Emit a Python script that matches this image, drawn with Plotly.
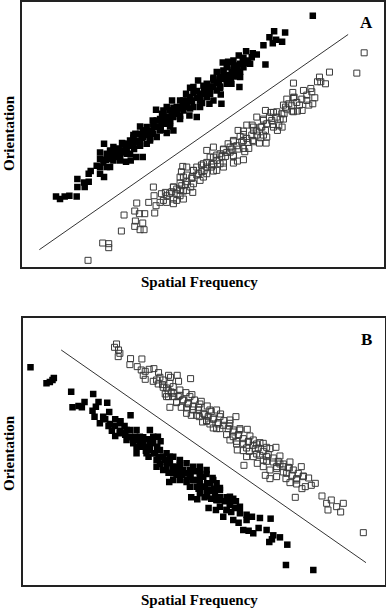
import plotly.graph_objects as go

# Values (arbitrary units; orientation axis is drawn top-down)
# Panel A
a_filled = [(938,46),(855,96),(822,92),(808,110),(828,118),(846,124),(790,134),(818,128),(796,192),
    (738,152),(758,158),(716,165),(728,178),(744,188),(710,196),(684,184),(668,186),
    (700,210),(688,224),(676,232),(720,230),(650,215),(640,232),(656,246),(694,250),(718,260),(594,240),(612,262),
    (570,262),(590,272),(620,290),(662,282),(640,300),(606,308),(628,310),(664,310),(600,320),(558,280),(540,300),
    (516,300),(530,320),(508,330),(550,330),(568,345),(590,350),(520,350),
    (468,328),(486,340),(470,360),(492,370),(510,378),(520,390),(500,398),(482,388),(460,380),(444,396),(420,378),
    (430,410),(450,420),(470,410),(400,404),(420,436),(402,446),(384,430),(366,428),(380,460),(392,480),(408,470),
    (428,470),(352,460),(336,466),(320,460),(300,456),(312,430),(340,480),(318,478),(300,476),(378,484),(290,496),
    (272,512),(300,520),(312,530),(266,520),(232,536),(252,546),(232,560),(266,544),(254,560),(230,588),(208,586),
    (194,588),(180,596),(168,588),
    (340,440),(356,444),(372,450),(360,470),(390,420),(410,420),(436,400),(440,430),(456,400),(476,380),(458,360),
    (480,356),(498,350),(510,360),(530,340),(540,356),(548,316),(560,300),(576,300),(580,320),(600,290),(612,276),
    (630,270),(640,260),(660,262),(680,250),(692,232),(704,228),(712,212),(730,200),(670,210),(650,270),(620,250),
    (580,260),(500,320),(520,330),(460,400),(430,390),(400,430),(376,440),(350,450),(330,450),(420,400),(490,330),
    (440,380),(406,400),(560,320),(570,290),(600,300),(640,240),(660,230),(680,200),(700,180),(720,190),
    (300,500),(310,486),(320,500),(335,476),(350,470),(365,456),(380,448),(395,436),(410,426),(425,412),(440,404),
    (455,392),(470,378),(485,368),(500,356),(515,346),(530,334),(545,324),(560,312),(575,302),(590,292),(605,280),
    (620,268),(635,258),(650,248),(665,236),(680,226),(695,214),(710,204),(725,192),(740,180),(755,170),(770,162),
    (330,500),(360,480),(390,460),(420,430),(450,414),(480,390),(510,368),(540,346),(570,324),(600,300),(630,280),
    (660,258),(690,236),(720,214),(750,190),(340,456),(370,430),(400,412),(430,390),(460,370),(490,346),(520,322),
    (550,300),(580,278),(610,256),(640,236),(670,214),(700,194),(730,172)]
a_open = [(1092,157),(1070,218),(988,215),(958,230),(976,250),(952,244),(962,244),(932,264),(944,292),(938,310),
    (920,300),(926,314),(898,314),(880,248),(878,276),(882,290),(860,296),(866,310),(856,320),(852,340),(876,332),
    (892,332),(906,330),
    (796,330),(812,336),(830,334),(808,350),(790,360),(770,350),(756,374),(782,380),(796,390),(840,356),(836,376),
    (832,390),(846,380),(818,372),(800,410),(782,412),(770,404),(760,390),(740,374),(730,392),(714,390),(720,408),
    (730,420),(744,426),(758,420),(778,428),(798,428),(746,444),(734,454),(716,446),(700,420),(690,440),(684,430),
    (670,448),(660,460),(676,468),(700,468),(712,482),(730,478),(700,488),(690,455),
    (640,440),(650,464),(630,470),(640,490),(620,486),(604,494),(612,510),(590,500),(580,510),(596,520),(576,530),
    (560,500),(548,498),(544,514),(560,524),(540,530),(620,520),(634,500),(660,490),(670,500),(650,510),
    (540,548),(556,552),(572,560),(578,576),(560,570),(540,570),(530,580),(520,596),(508,580),(496,576),(484,580),
    (490,600),(500,606),(530,600),(550,596),(540,586),(460,560),(462,586),(480,606),(446,606),(468,616),(464,638),
    (410,608),(404,632),(418,640),(434,640),(406,662),(428,668),(404,678),(420,688),(432,688),(372,644),(364,692),
    (308,728),(326,730),(326,742),(264,780),(600,540),(520,560),(620,450),
    (500,586),(515,574),(530,566),(545,556),(560,544),(575,534),(590,524),(605,514),(620,500),(635,492),(650,480),
    (665,468),(680,456),(695,446),(710,436),(725,424),(740,414),(755,404),(770,392),(785,380),(800,370),(815,360),
    (830,350),(845,340),(860,326),(875,316),(890,306),(905,296),(920,284),(935,274),
    (520,610),(550,572),(580,550),(610,530),(640,512),(670,488),(700,466),(730,444),(760,424),(790,404),(820,380),
    (850,356),(880,334),(520,560),(550,530),(580,510),(610,490),(640,470),(670,446),(700,424),(730,402),(760,380),
    (790,356),(820,336),(850,314),(880,292),(910,270)]
a_line_sf = [118, 1044]
a_line_or = [748, 102]

# Panel B
b_filled = [(92,202),(140,250),(150,246),(158,240),(162,234),(214,275),(280,282),(218,322),(236,318),(254,306),
    (246,322),(296,306),(288,320),(278,332),(322,308),(284,350),(310,350),(328,336),(316,358),(300,370),(326,378),
    (346,358),(362,364),(374,378),(392,346),(336,392),(346,408),(360,400),(376,404),(390,412),(406,410),(418,420),
    (430,412),(444,418),(460,410),(474,410),(482,424),(472,440),(410,460),(438,452),(446,470),(462,460),(476,476),
    (490,470),(500,486),(480,492),(470,500),(490,510),(506,518),(520,500),(530,510),(540,496),(550,510),(560,520),
    (572,522),(586,514),(600,520),(610,530),(620,522),(638,534),(650,550),(622,550),(600,546),(580,540),(560,546),
    (540,540),(520,540),(508,546),(570,560),(596,566),(610,560),(628,570),(642,566),(660,564),(574,592),(592,598),
    (614,592),(622,588),(634,596),(650,600),(680,592),(700,596),(708,604),(626,624),(648,630),(660,620),(680,630),
    (694,636),(720,640),(740,644),(756,650),(780,654),(812,656),(670,650),(700,660),(716,668),(730,690),(746,692),
    (760,700),(776,684),(800,690),(820,706),(816,718),(808,726),(840,712),(862,734),(858,795),(940,810),
    (400,430),(420,440),(450,440),(430,430),(460,430),(500,460),(520,470),(540,480),(560,490),(580,500),(450,390),
    (380,390),(410,390),(520,520),(546,524),(600,580),(660,600),(690,610),(720,620),(740,660),(600,500),(620,510),
    (640,540),
    (330,372),(345,378),(360,392),(375,398),(390,410),(405,418),(420,430),(435,440),(450,450),(465,460),(480,470),
    (495,480),(510,490),(525,500),(540,510),(555,520),(570,530),(585,540),(600,552),(615,560),(630,572),(645,582),
    (660,592),(675,604),(690,614),(705,624),
    (360,370),(390,390),(420,410),(450,428),(480,450),(510,470),(540,490),(570,510),(600,530),(630,550),(660,570),
    (690,590),(380,420),(410,440),(440,460),(470,480),(500,500),(530,524),(560,540),(590,560),(620,580),(650,600),
    (680,630)]
b_open = [(350,132),(356,150),(344,142),(355,170),(360,160),(392,176),(426,177),(390,194),(412,200),(424,210),
    (436,214),(448,208),(462,206),(476,218),(430,226),(436,238),(470,240),(490,240),(506,226),(532,226),(512,232),
    (536,244),(572,236),(488,254),(500,264),(520,260),(514,276),(496,282),(506,290),(520,290),(540,286),(558,278),
    (576,284),(548,300),(564,310),(544,322),(510,322),(530,306),(584,300),(604,304),(622,318),(596,322),(580,330),
    (560,340),(574,346),(598,350),(614,344),(634,334),(650,330),(662,342),(640,354),(620,362),(608,366),(630,372),
    (654,372),(672,362),(690,360),(708,350),(688,378),(660,386),(640,384),(700,390),(720,386),(742,388),(716,404),
    (700,410),(690,420),(710,432),(730,430),(746,424),(760,420),(770,432),(790,430),(800,442),(828,442),(766,446),
    (748,454),(730,452),(712,450),(740,470),(760,470),(780,466),(800,470),(790,480),(772,490),(820,486),(840,492),
    (850,500),(868,504),(904,500),(732,496),(790,500),(810,510),(830,506),(796,526),(810,536),(830,530),(850,516),
    (858,536),(876,526),(890,540),(910,530),(926,534),(946,550),(934,556),(916,560),(906,566),(890,552),(870,548),
    (886,592),(966,588),(994,600),(980,610),(984,630),(1030,610),(1010,620),(1022,636),(1090,698),
    (460,244),(475,252),(490,262),(505,272),(520,280),(535,290),(550,300),(565,312),(580,320),(595,330),(610,340),
    (625,350),(640,358),(655,368),(670,376),(685,386),(700,396),(715,406),(730,416),(745,426),(760,436),(775,444),
    (790,454),(805,464),(820,474),(835,484),(850,492),(865,502),(880,510),(895,520),(910,528),
    (480,232),(510,250),(540,270),(570,290),(600,312),(630,330),(660,350),(690,370),(720,390),(750,408),(780,428),
    (810,446),(840,468),(870,486),(500,290),(530,308),(560,324),(590,346),(620,364),(650,386),(680,404),(710,424),
    (740,444),(770,462),(800,484),(830,500),(860,520),(890,536)]
b_line_sf = [184, 1098]
b_line_or = [150, 788]

x_title = "Spatial Frequency"
y_title = "Orientation"
panel_labels = ["A", "B"]

FONT = "Liberation Serif"
fig = go.Figure()

def add_panel(filled, opened, lsf, lor, xa, ya):
    fig.add_trace(go.Scatter(x=lsf, y=lor, mode="lines", line=dict(color="#333333", width=1),
                             xaxis=xa, yaxis=ya, hoverinfo="skip"))
    fig.add_trace(go.Scatter(x=[p[0] for p in filled], y=[p[1] for p in filled], mode="markers",
                             marker=dict(symbol="square", size=6.5, color="black", line=dict(width=0)),
                             xaxis=xa, yaxis=ya, cliponaxis=True))
    fig.add_trace(go.Scatter(x=[p[0] for p in opened], y=[p[1] for p in opened], mode="markers",
                             marker=dict(symbol="square-open", size=6, color="#3a3a3a", line=dict(width=1)),
                             xaxis=xa, yaxis=ya, cliponaxis=True))

add_panel(a_filled, a_open, a_line_sf, a_line_or, "x", "y")
add_panel(b_filled, b_open, b_line_sf, b_line_or, "x2", "y2")

ax_common = dict(showticklabels=False, ticks="", showgrid=False, zeroline=False,
                 showline=True, mirror=True, linecolor="#222222", linewidth=1.5)

H = 608.0
fig.update_layout(
    width=386, height=608, showlegend=False,
    margin=dict(l=0, r=0, t=0, b=0),
    paper_bgcolor="white", plot_bgcolor="white",
    xaxis=dict(domain=[22/386, 383.5/386], range=[66, 1150], **ax_common),
    yaxis=dict(domain=[(H-267)/H, (H-1.5)/H], range=[800, 3], **ax_common),
    xaxis2=dict(domain=[22.5/386, 385/386], range=[68, 1155], anchor="y2", **ax_common),
    yaxis2=dict(domain=[(H-585)/H, (H-318.3)/H], range=[855, 55], anchor="x2", **ax_common),
)

ann = []
for lbl, ycen_title, y_x, y_letter in [(panel_labels[0], 133, 282, 23), (panel_labels[1], 453, 600, 339)]:
    ann.append(dict(text="<b>" + y_title + "</b>", x=9/386, y=(H-ycen_title)/H, xref="paper", yref="paper",
                    showarrow=False, textangle=-90, font=dict(family=FONT, size=15, color="black"),
                    xanchor="center", yanchor="middle"))
    ann.append(dict(text="<b>" + x_title + "</b>", x=200/386, y=(H-y_x)/H, xref="paper", yref="paper",
                    showarrow=False, font=dict(family=FONT, size=15, color="black"),
                    xanchor="center", yanchor="middle"))
    ann.append(dict(text="<b>" + lbl + "</b>", x=366/386, y=(H-y_letter)/H, xref="paper", yref="paper",
                    showarrow=False, font=dict(family=FONT, size=17, color="black"),
                    xanchor="center", yanchor="middle"))
fig.update_layout(annotations=ann)

fig.write_html("out.html", config={"displayModeBar": False},
               post_script="document.body.style.margin='0';document.body.style.padding='0';")
